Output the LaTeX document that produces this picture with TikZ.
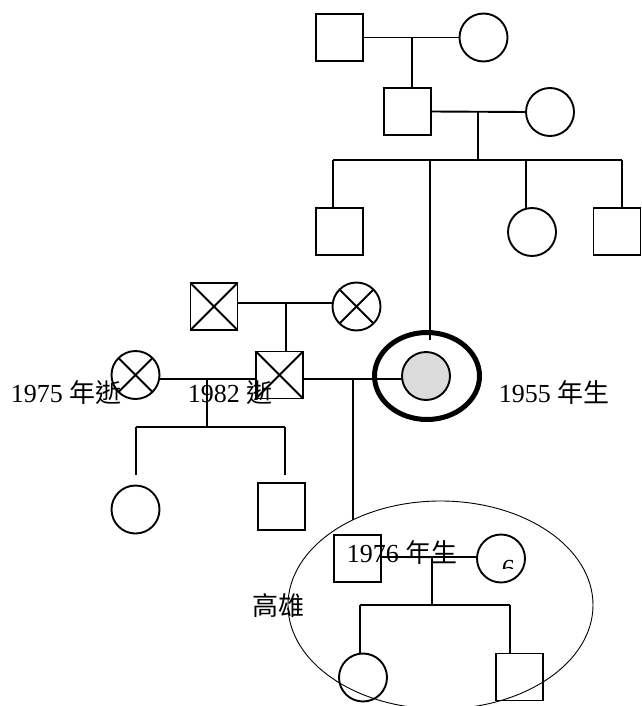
\documentclass[tikz,border=0pt]{standalone}
\usepackage{fontspec}
\setmainfont{Liberation Serif}
\newfontfamily\cjk{Noto Sans CJK TC}
\usetikzlibrary{shapes.geometric}
\begin{document}
\begin{tikzpicture}[x=1pt,y=-1pt, line width=1.9pt,
  male/.style={draw, rectangle, minimum size=47pt, inner sep=0pt, outer sep=0pt},
  female/.style={draw, circle, minimum size=48pt, inner sep=0pt, outer sep=0pt},
  lbl/.style={anchor=base west, inner sep=0pt, font=\fontsize{26}{30}\selectfont},
  ]
\useasboundingbox (0,0) rectangle (641,706);
% generation 1 and 2
\node[male] (gf) at (339.5,37.5) {};
\node[female] (gm) at (483.5,37.5) {};
\node[male] (f) at (407.5,111.5) {};
\node[female] (m) at (550,112) {};
\node[male] (c1) at (339.5,231.5) {};
\node[female] (c3) at (532,232) {};
\node[male] (c4) at (617,231.5) {};
% proband
\node[draw, ellipse, line width=5pt, minimum width=105pt, minimum height=87pt, inner sep=0pt, outer sep=0pt] (pb) at (427,376) {};
\node[female, fill=black!14] (p) at (426,376) {};
% husband side
\node[male] (h) at (279.5,375) {};
\node[male] (hf) at (214,306.5) {};
\node[female] (hm) at (356.5,306.5) {};
\node[female] (w1) at (135.5,375) {};
\node[female] (k1) at (135.5,509.5) {};
\node[male] (k2) at (281.5,506.5) {};
% household ellipse
\node[draw, ellipse, line width=0.9pt, minimum width=305pt, minimum height=208pt, inner sep=0pt, outer sep=0pt] (kh) at (440.5,605) {};
\node[male] (s) at (357.5,558.5) {};
\node[female] (sw) at (501,558.5) {};
\node[female] (g1) at (363,677.5) {};
\node[male] (g2) at (519.5,677) {};
% crosses (deceased)
\foreach \n in {hf,h} \draw (\n.north west) -- (\n.south east) (\n.north east) -- (\n.south west);
\foreach \n in {hm,w1} \draw (\n.45) -- (\n.225) (\n.135) -- (\n.315);
% connectors
\draw (gf.east) -- (gm.west);
\coordinate (j1) at (412,37.5);
\draw (j1) -- (j1 |- f.north);
\draw (f.east) -- (m.west);
\coordinate (j2) at (478,112);
\coordinate (sb) at (478,160);
\draw (j2) -- (sb);
\coordinate (sl) at (333,160);
\coordinate (sr) at (622,160);
\coordinate (s3) at (526,160);
\coordinate (sp) at (430,160);
\coordinate (pe) at (430,340);
\draw (sl) -- (sr);
\draw (sl) -- (sl |- c1.north);
\draw (s3) -- (s3 |- c3.north);
\draw (sr) -- (sr |- c4.north);
\draw (sp) -- (pe);
\coordinate (m2) at (286,303);
\draw (hf.east |- m2) -- (hm.west |- m2);
\draw (m2) -- (m2 |- h.north);
\coordinate (m3) at (207,379);
\coordinate (s5) at (207,427);
\coordinate (s5l) at (136,427);
\coordinate (s5r) at (285,427);
\coordinate (e5l) at (136,475);
\coordinate (e5r) at (285,475);
\draw (w1.east |- m3) -- (h.west |- m3);
\draw (m3) -- (s5);
\draw (s5l) -- (s5r);
\draw (s5l) -- (e5l);
\draw (s5r) -- (e5r);
\coordinate (m4) at (353,379);
\coordinate (m4e) at (353,519.5);
\draw (h.east |- m4) -- (p.west |- m4);
\draw (m4) -- (m4e);
\coordinate (m5) at (432,557);
\coordinate (s6) at (432,605);
\coordinate (s6l) at (360,605);
\coordinate (s6r) at (510,605);
\draw (s.east |- m5) -- (sw.west |- m5);
\draw (m5) -- (s6);
\draw (s6l) -- (s6r);
\draw (s6l) -- (s6l |- g1.north);
\draw (s6r) -- (s6r |- g2.north);
% labels
\node[lbl] (t1) at (10,402) {1975 {\cjk 年逝}};
\node[lbl] (t2) at (187,402) {1982 {\cjk 逝}};
\node[lbl] (t3) at (498,402) {1955 {\cjk 年生}};
\node[lbl] (t4) at (346,562) {1976 {\cjk 年生}};
\node[lbl] (t5) at (252,615) {\cjk 高雄};
\begin{scope}
\clip (495,550) rectangle (520,568);
\node[lbl] (t6) at (501,577) {6};
\end{scope}
\end{tikzpicture}
\end{document}
